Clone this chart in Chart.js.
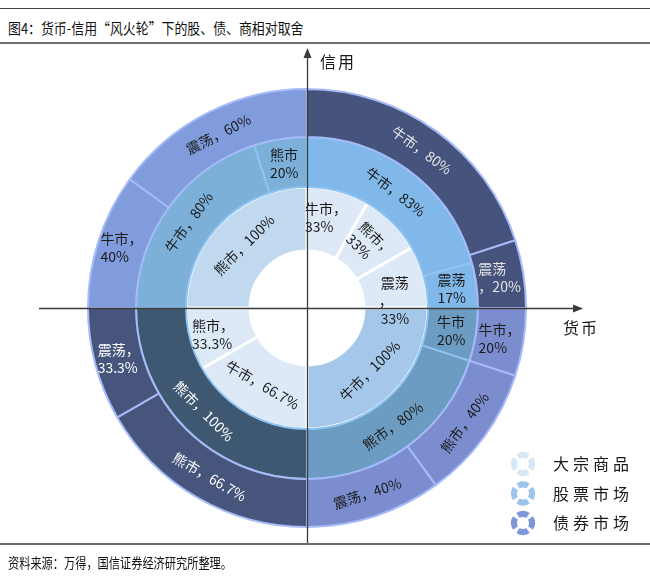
<!DOCTYPE html>
<html>
<head>
<meta charset="utf-8">
<script src="https://cdn.jsdelivr.net/npm/chart.js@4.4.0/dist/chart.umd.min.js"></script>
<style>
  body { margin: 0; background: #fff; width: 650px; height: 576px; position: relative; overflow: hidden;
         font-family: "Noto Sans CJK SC", "Noto Sans", sans-serif; color: #111; }
  #wrap { position: absolute; left: 0; top: 0; width: 650px; height: 576px; }
  .rule { position: absolute; left: 0; width: 650px; background: #6e6e6e; }
  #title { position: absolute; left: 8px; top: 17px; font-size: 15px; line-height: 22px;
           white-space: nowrap; transform: scaleX(0.86); transform-origin: left center; }
  #source { position: absolute; left: 8px; top: 552px; font-size: 14px; line-height: 20px;
            white-space: nowrap; transform: scaleX(0.8); transform-origin: left center; }
</style>
</head>
<body>
<div class="rule" style="top:8px;height:1px;background:#444"></div>
<div id="title">图4：货币-信用“风火轮”下的股、债、商相对取舍</div>
<div class="rule" style="top:42px;height:2px"></div>
<div id="wrap"><canvas id="wheel"></canvas></div>
<div class="rule" style="top:543px;height:2px"></div>
<div id="source">资料来源：万得，国信证券经济研究所整理。</div>

<script>
// 象限顺序：0 右上，1 右下，2 左下，3 左上（自正上方顺时针）
var seriesNames = ['大宗商品', '股票市场', '债券市场'];
var axisLabels = ['信用', '货币'];

// 大宗商品（内圈）
var commodityState = ['牛市', '熊市', '震荡', '牛市', '牛市', '熊市', '熊市'];
var commodityPct   = [33, 33, 33, 100, 66.7, 33.3, 100];
var commodityQuad  = [0, 0, 0, 1, 2, 2, 3];

// 股票市场（中圈）
var equityState = ['牛市', '震荡', '牛市', '熊市', '熊市', '牛市', '熊市'];
var equityPct   = [83, 17, 20, 80, 100, 80, 20];
var equityQuad  = [0, 0, 1, 1, 2, 3, 3];

// 债券市场（外圈）
var bondState = ['牛市', '震荡', '牛市', '熊市', '震荡', '熊市', '震荡', '牛市', '震荡'];
var bondPct   = [80, 20, 20, 40, 40, 66.7, 33.3, 40, 60];
var bondQuad  = [0, 0, 1, 1, 1, 2, 2, 3, 3];

// styles
var ringFill = {
    commodity: ['#dde9f6', '#a5c7e9', '#dde9f6', '#c1d9ef'],
    equity:    ['#80b9e9', '#6c9cc1', '#3d5870', '#7cb0d9'],
    bond:      ['#46537c', '#7b8dcf', '#47557d', '#809cdc']
};
var ringBorder = { commodity: '#ffffff', equity: '#8fc4f3', bond: '#a6baf7' };
var ringInk = {
    commodity: ['#1a1a1a', '#1a1a1a', '#1a1a1a', '#1a1a1a'],
    equity:    ['#1a1a1a', '#1a1a1a', '#ffffff', '#1a1a1a'],
    bond:      ['#e4e4e4', '#1a1a1a', '#ffffff', '#1a1a1a']
};
// r = along the ring, h = level text; | = line break
var labelFmt = {
    commodity: ['h:{n}，|{v}', 'r:{n}，|{v}', 'h:{n}|，|{v}', 'r:{n}，{v}', 'r:{n}，{v}', 'h:{n}，|{v}', 'r:{n}，{v}'],
    equity:    ['r:{n}，{v}', 'h:{n}|{v}', 'h:{n}|{v}', 'r:{n}，{v}', 'r:{n}，{v}', 'r:{n}，{v}', 'h:{n}|{v}'],
    bond:      ['r:{n}，{v}', 'h:{n}|，{v}', 'h:{n}，|{v}', 'r:{n}，{v}', 'r:{n}，{v}', 'r:{n}，{v}', 'h:{n}，|{v}', 'h:{n}，|{v}', 'r:{n}，{v}']
};
var labelNudge = { commodity: { 2: [2, 16], 5: [-8, 4], 0: [-4, -4] } };
var legendFill = ['#d8e7f5', '#9dc5ea', '#7f96da'];

// each quadrant is a quarter turn, split by the percentages
function quadrantShares(pct, quad) {
    var sums = [0, 0, 0, 0];
    pct.forEach(function (v, i) { sums[quad[i]] += v; });
    return pct.map(function (v, i) { return v / sums[quad[i]] * 100; });
}

function ring(key, label, state, pct, quad, weight, bw) {
    return {
        key: key,
        label: label,
        states: state,
        pcts: pct,
        quads: quad,
        data: quadrantShares(pct, quad),
        backgroundColor: quad.map(function (q) { return ringFill[key][q]; }),
        borderColor: ringBorder[key],
        borderWidth: bw,
        weight: weight
    };
}

var axesPlugin = {
    id: 'axes',
    afterDatasetsDraw: function (chart) {
        var ctx = chart.ctx;
        var arc = chart.getDatasetMeta(0).data[0];
        var cx = Math.round(arc.x) + 0.5, cy = Math.round(arc.y) + 0.5;
        ctx.save();
        ctx.strokeStyle = '#3a3a3a';
        ctx.fillStyle = '#3a3a3a';
        ctx.lineWidth = 1.3;
        ctx.beginPath();
        ctx.moveTo(cx, 544); ctx.lineTo(cx, 56);
        ctx.moveTo(39, cy); ctx.lineTo(575, cy);
        ctx.stroke();
        ctx.beginPath();
        ctx.moveTo(cx, 48); ctx.lineTo(cx - 4, 58); ctx.lineTo(cx + 4, 58); ctx.closePath();
        ctx.moveTo(583, cy); ctx.lineTo(573, cy - 4); ctx.lineTo(573, cy + 4); ctx.closePath();
        ctx.fill();

        ctx.fillStyle = '#1a1a1a';
        ctx.font = '16px "Noto Sans CJK SC"';
        ctx.letterSpacing = '2px';
        ctx.textBaseline = 'middle';
        ctx.textAlign = 'left';
        ctx.fillText(axisLabels[0], 320, 62);
        ctx.fillText(axisLabels[1], 563, 328);
        ctx.restore();
    }
};

var sliceLabels = {
    id: 'sliceLabels',
    afterDatasetsDraw: function (chart) {
        var ctx = chart.ctx;
        ctx.save();
        ctx.font = '14px "Noto Sans CJK SC"';
        ctx.textBaseline = 'middle';
        ctx.textAlign = 'left';
        chart.data.datasets.forEach(function (ds, di) {
            var meta = chart.getDatasetMeta(di);
            meta.data.forEach(function (el, j) {
                var p = el.getProps(['x', 'y', 'startAngle', 'endAngle', 'innerRadius', 'outerRadius'], true);
                var mid = (p.startAngle + p.endAngle) / 2;
                var r = (p.innerRadius + p.outerRadius) / 2;
                var x = p.x + Math.cos(mid) * r;
                var y = p.y + Math.sin(mid) * r;
                var nudge = (labelNudge[ds.key] || {})[j];
                if (nudge) { x += nudge[0]; y += nudge[1]; }

                var fmt = labelFmt[ds.key][j];
                var mode = fmt.charAt(0);
                var lines = fmt.slice(2)
                    .replace('{n}', ds.states[j])
                    .replace('{v}', ds.pcts[j] + '%')
                    .split('|');

                var rot = 0;
                if (mode === 'r') {
                    rot = mid + Math.PI / 2;
                    while (rot > Math.PI / 2) rot -= Math.PI;
                    while (rot <= -Math.PI / 2) rot += Math.PI;
                }
                var lh = 18;
                var w = Math.max.apply(null, lines.map(function (s) { return ctx.measureText(s).width; }));
                ctx.save();
                ctx.translate(x, y);
                ctx.rotate(rot);
                ctx.fillStyle = ringInk[ds.key][ds.quads[j]];
                lines.forEach(function (s, k) {
                    var lx = lines.length > 1 ? -w / 2 : -ctx.measureText(s).width / 2;
                    if (s === '，') lx = -w / 2 - 2;
                    ctx.fillText(s, lx, (k - (lines.length - 1) / 2) * lh);
                });
                ctx.restore();
            });
        });
        ctx.restore();
    }
};

var legendPlugin = {
    id: 'ringLegend',
    afterDraw: function (chart) {
        var ctx = chart.ctx;
        ctx.save();
        seriesNames.forEach(function (name, i) {
            var cx = 523, cy = 464 + i * 29.5;
            for (var s = 0; s < 4; s++) {
                var a0 = -Math.PI / 4 + s * Math.PI / 2 + 0.2;
                var a1 = -Math.PI / 4 + (s + 1) * Math.PI / 2 - 0.2;
                ctx.beginPath();
                ctx.arc(cx, cy, 12, a0, a1);
                ctx.arc(cx, cy, 6, a1, a0, true);
                ctx.closePath();
                ctx.fillStyle = legendFill[i];
                ctx.fill();
            }
            ctx.fillStyle = '#1a1a1a';
            ctx.font = '16px "Noto Sans CJK SC"';
            ctx.letterSpacing = '4px';
            ctx.textBaseline = 'middle';
            ctx.textAlign = 'left';
            ctx.fillText(name, 553, cy);
        });
        ctx.restore();
    }
};

var ctx = document.getElementById('wheel').getContext('2d');
var wheel = new Chart(ctx, {
    type: 'doughnut',
    data: {
        datasets: [
            ring('bond', seriesNames[2], bondState, bondPct, bondQuad, 48, 2),
            ring('equity', seriesNames[1], equityState, equityPct, equityQuad, 50, 2),
            ring('commodity', seriesNames[0], commodityState, commodityPct, commodityQuad, 64, 3)
        ]
    },
    options: {
        responsive: true,
        maintainAspectRatio: false,
        animation: false,
        events: [],
        radius: 219,
        cutout: '26%',
        layout: { padding: { left: 88, right: 124, top: 89, bottom: 49 } },
        plugins: {
            legend: { display: false },
            tooltip: { enabled: false }
        }
    },
    plugins: [axesPlugin, sliceLabels, legendPlugin]
});
</script>
</body>
</html>
